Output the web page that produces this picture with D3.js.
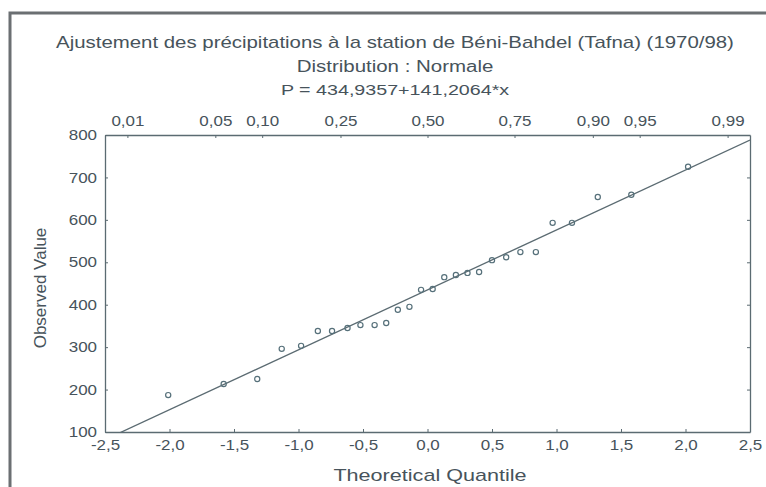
<!DOCTYPE html>
<html><head><meta charset="utf-8">
<script src="https://cdn.jsdelivr.net/npm/d3@7"></script>
<style>
html,body{margin:0;padding:0;background:#fff;}
svg{display:block;}
text{font-family:"Liberation Sans",Arial,sans-serif;fill:#47535b;}
</style></head>
<body>
<svg id="chart" width="766" height="487"></svg>
<script>
const titleLines = ["Ajustement des précipitations à la station de Béni-Bahdel (Tafna) (1970/98)",
  "Distribution : Normale", "P = 434,9357+141,2064*x"];
const xLabel = "Theoretical Quantile";
const yLabel = "Observed Value";
const theoretical = [-2.01,-1.58,-1.32,-1.13,-0.98,-0.85,-0.74,-0.62,-0.52,-0.41,-0.32,-0.23,-0.14,-0.05,
  0.04,0.13,0.22,0.31,0.40,0.50,0.61,0.72,0.84,0.97,1.12,1.32,1.58,2.02];
const observed = [187,213,225,296,303,338,338,345,352,352,357,388,395,435,437,465,470,475,477,505,512,524,524,593,593,654,659,725];
const fitIntercept = 434.9357, fitSlope = 141.2064;
const xTicks = [-2.5,-2,-1.5,-1,-0.5,0,0.5,1,1.5,2,2.5];
const yTicks = [100,200,300,400,500,600,700,800];
const probTicks = [0.01,0.05,0.10,0.25,0.50,0.75,0.90,0.95,0.99];

// inverse standard normal (Acklam approximation)
function invNorm(p){
  const a=[-39.69683028665376,220.9460984245205,-275.9285104469687,138.3577518672690,-30.66479806614716,2.506628277459239];
  const b=[-54.47609879822406,161.5858368580409,-155.6989798598866,66.80131188771972,-13.28068155288572];
  const c=[-0.007784894002430293,-0.3223964580411365,-2.400758277161838,-2.549732539343734,4.374664141464968,2.938163982698783];
  const d=[0.007784695709041462,0.3224671290700398,2.445134137142996,3.754408661907416];
  const pl=0.02425;
  let q,r;
  if(p<pl){q=Math.sqrt(-2*Math.log(p));return (((((c[0]*q+c[1])*q+c[2])*q+c[3])*q+c[4])*q+c[5])/((((d[0]*q+d[1])*q+d[2])*q+d[3])*q+1);}
  if(p>1-pl){q=Math.sqrt(-2*Math.log(1-p));return -(((((c[0]*q+c[1])*q+c[2])*q+c[3])*q+c[4])*q+c[5])/((((d[0]*q+d[1])*q+d[2])*q+d[3])*q+1);}
  q=p-0.5;r=q*q;
  return (((((a[0]*r+a[1])*r+a[2])*r+a[3])*r+a[4])*r+a[5])*q/(((((b[0]*r+b[1])*r+b[2])*r+b[3])*r+b[4])*r+1);
}

const loc = d3.formatLocale({decimal:",",thousands:" ",grouping:[3],currency:["",""],minus:"-"});
const f1 = loc.format(".1f"), f2 = loc.format(".2f");

const svg = d3.select("#chart");
const ink = "#47535b", lineCol = "#5b6b72";
const m = {left:105, right:750, top:135, bottom:432};
const sx = 1.17; // horizontal stretch of tick labels

// outer frame
svg.append("path").attr("d","M10,490 L10,13 L770,13").attr("fill","none")
  .attr("stroke","#6b6f72").attr("stroke-width",3);

const x = d3.scaleLinear().domain([-2.5,2.5]).range([m.left,m.right]);
const y = d3.scaleLinear().domain([100,800]).range([m.bottom,m.top]);

function stretchedText(tx, ty, txt, size, scaleX){
  return svg.append("text").attr("transform",`translate(${tx},${ty}) scale(${scaleX},1)`)
    .attr("dy","0.35em").attr("text-anchor","middle").attr("font-size",size).text(txt);
}

// titles
stretchedText(395,42,titleLines[0],16.2,1.26);
stretchedText(395,66,titleLines[1],16,1.28);
stretchedText(395,90,titleLines[2],15.5,1.27);

// axes
const axB = svg.append("g").attr("transform",`translate(0,${m.bottom})`)
  .call(d3.axisBottom(x).tickValues(xTicks).tickFormat(f1).tickSizeInner(-3).tickSizeOuter(0).tickPadding(8));
const axT = svg.append("g").attr("transform",`translate(0,${m.top})`)
  .call(d3.axisTop(x).tickValues(probTicks.map(invNorm)).tickFormat((d,i)=>f2(probTicks[i])).tickSizeInner(-3).tickSizeOuter(0).tickPadding(9));
const axL = svg.append("g").attr("transform",`translate(${m.left},0)`)
  .call(d3.axisLeft(y).tickValues(yTicks).tickFormat(d3.format("d")).tickSizeInner(-3).tickSizeOuter(0).tickPadding(9));
const axR = svg.append("g").attr("transform",`translate(${m.right},0)`)
  .call(d3.axisRight(y).tickValues(yTicks).tickFormat("").tickSizeInner(-3).tickSizeOuter(0));
[axB,axT,axL,axR].forEach(g=>{
  g.selectAll(".domain").attr("stroke",lineCol).attr("stroke-width",1.3);
  g.selectAll(".tick line").attr("stroke",lineCol);
  g.selectAll("text").attr("font-size",14.5).attr("fill",ink).attr("font-family","Liberation Sans, Arial, sans-serif")
    .attr("transform",`scale(${sx},1)`);
});
axL.selectAll("text").attr("x",-8/sx);

// clip
svg.append("clipPath").attr("id","clip").append("rect")
  .attr("x",m.left).attr("y",m.top).attr("width",m.right-m.left).attr("height",m.bottom-m.top);

// fit line
const xs = [-2.5,2.5];
svg.append("path").datum(xs).attr("clip-path","url(#clip)")
  .attr("d",d3.line().x(d=>x(d)).y(d=>y(fitIntercept+fitSlope*d)))
  .attr("fill","none").attr("stroke",lineCol).attr("stroke-width",1.3);

// points
svg.append("g").selectAll("circle").data(theoretical).join("circle")
  .attr("cx",d=>x(d)).attr("cy",(d,i)=>y(observed[i])).attr("r",2.6)
  .attr("fill","none").attr("stroke","#56707a").attr("stroke-width",1.2);

// axis titles
stretchedText(430,475,xLabel,17,1.27);
svg.append("text").attr("transform","translate(40,288) rotate(-90)").attr("dy","0.35em")
  .attr("text-anchor","middle").attr("font-size",17).text(yLabel);
</script>
</body></html>
